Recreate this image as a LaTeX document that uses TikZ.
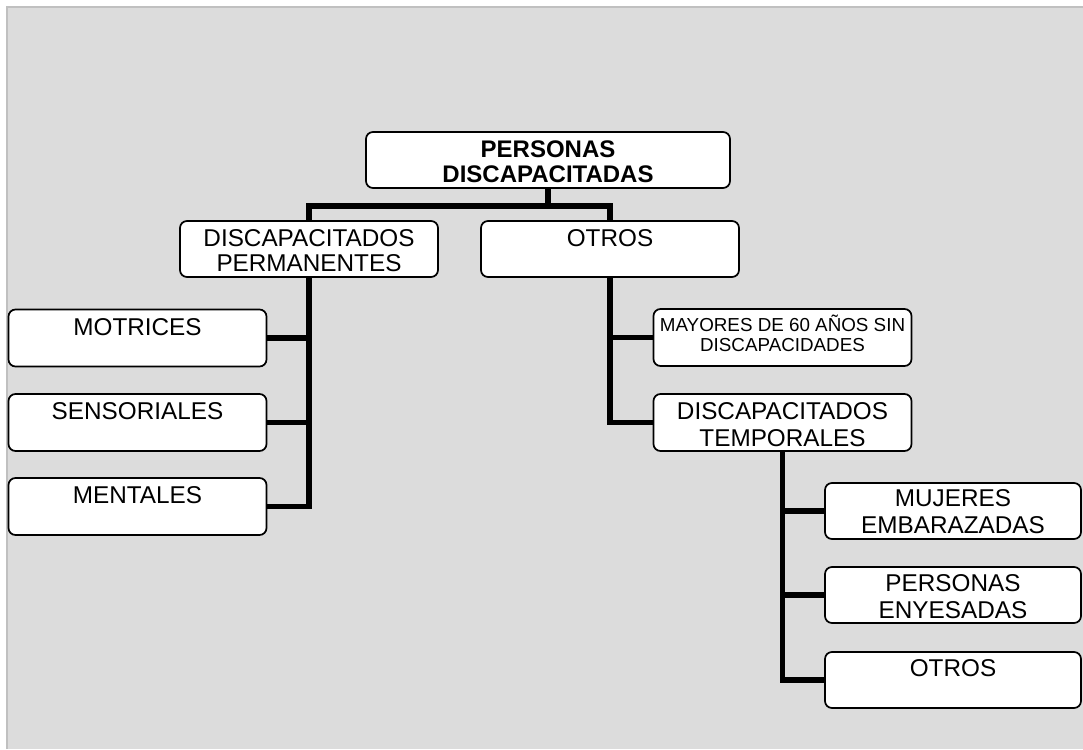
\documentclass[tikz,border=0pt]{standalone}
\usepackage{fontspec}
\setmainfont{Liberation Sans}
\definecolor{bgfill}{HTML}{DCDCDC}
\definecolor{bgline}{HTML}{C0C0C0}
\begin{document}
\begin{tikzpicture}[x=1pt,y=-1pt,
  box/.style={draw=black, line width=1.7pt, fill=white, rounded corners=7pt, rectangle, inner sep=0pt, minimum width=258pt, minimum height=57pt},
  conn/.style={line width=5.6pt, draw=black},
  lbl/.style={anchor=base, inner sep=0pt, font=\fontsize{24.3}{25}\selectfont},
  lblw/.style={anchor=base, inner sep=0pt, font=\fontsize{24.3}{27}\selectfont},
  lbls/.style={anchor=base, inner sep=0pt, font=\fontsize{18.8}{20}\selectfont},
  lblb/.style={anchor=base, inner sep=0pt, font=\fontsize{24}{25}\selectfont\bfseries}]
\useasboundingbox (0,0) rectangle (1083,749);
\fill[bgfill] (7,7) rectangle (1083,749);
\draw[bgline, line width=2pt] (7,749) -- (7,7) -- (1083,7);

% boxes
\node[box, minimum width=364pt, minimum height=56pt] (top) at (548,160) {};
\node[box, minimum height=56pt] (dp) at (309,249) {};
\node[box, minimum height=56pt] (ot) at (610,249) {};
\node[box] (mot) at (137.5,338) {};
\node[box] (sen) at (137.5,422.5) {};
\node[box] (men) at (137.5,506.5) {};
\node[box] (may) at (782.5,337.5) {};
\node[box] (dt) at (782.5,422.5) {};
\node[box, minimum width=256pt, minimum height=56pt] (muj) at (953,511) {};
\node[box, minimum width=256pt, minimum height=56pt] (pen) at (953,595) {};
\node[box, minimum width=256pt, minimum height=56pt] (otr) at (953,680) {};

% connectors
\coordinate (busA) at (548,206);
\draw[conn] (top.south) -- (top.south |- busA) -| (dp.north);
\draw[conn] (top.south |- busA) -| (ot.north);
\draw[conn] (dp.south) |- (mot.east);
\draw[conn] (dp.south) |- (sen.east);
\draw[conn] (dp.south) |- (men.east);
\draw[conn] (ot.south) |- (may.west);
\draw[conn] (ot.south) |- (dt.west);
\draw[conn] (dt.south) |- (muj.west);
\draw[conn] (dt.south) |- (pen.west);
\draw[conn] (dt.south) |- (otr.west);

% texts
\node[lblb] (ttop) at ([yshift=-26pt]top.north) {\begin{tabular}[t]{@{}c@{}}PERSONAS\\DISCAPACITADAS\end{tabular}};
\node[lbl] (tdp) at ([yshift=-26pt]dp.north) {\begin{tabular}[t]{@{}c@{}}DISCAPACITADOS\\PERMANENTES\end{tabular}};
\node[lbl] (tot) at ([yshift=-26pt]ot.north) {OTROS};
\node[lbl] (tmot) at ([yshift=-27pt]mot.north) {MOTRICES};
\node[lbl] (tsen) at ([yshift=-26pt]sen.north) {SENSORIALES};
\node[lbl] (tmen) at ([yshift=-26pt]men.north) {MENTALES};
\node[lbls] (tmay) at ([yshift=-23pt]may.north) {\begin{tabular}[t]{@{}c@{}}MAYORES DE 60 AÑOS SIN\\DISCAPACIDADES\end{tabular}};
\node[lblw] (tdt) at ([yshift=-26pt]dt.north) {\begin{tabular}[t]{@{}c@{}}DISCAPACITADOS\\TEMPORALES\end{tabular}};
\node[lblw] (tmuj) at ([yshift=-24pt]muj.north) {\begin{tabular}[t]{@{}c@{}}MUJERES\\EMBARAZADAS\end{tabular}};
\node[lblw] (tpen) at ([yshift=-25pt]pen.north) {\begin{tabular}[t]{@{}c@{}}PERSONAS\\ENYESADAS\end{tabular}};
\node[lbl] (totr) at ([yshift=-25pt]otr.north) {OTROS};
\end{tikzpicture}
\end{document}
